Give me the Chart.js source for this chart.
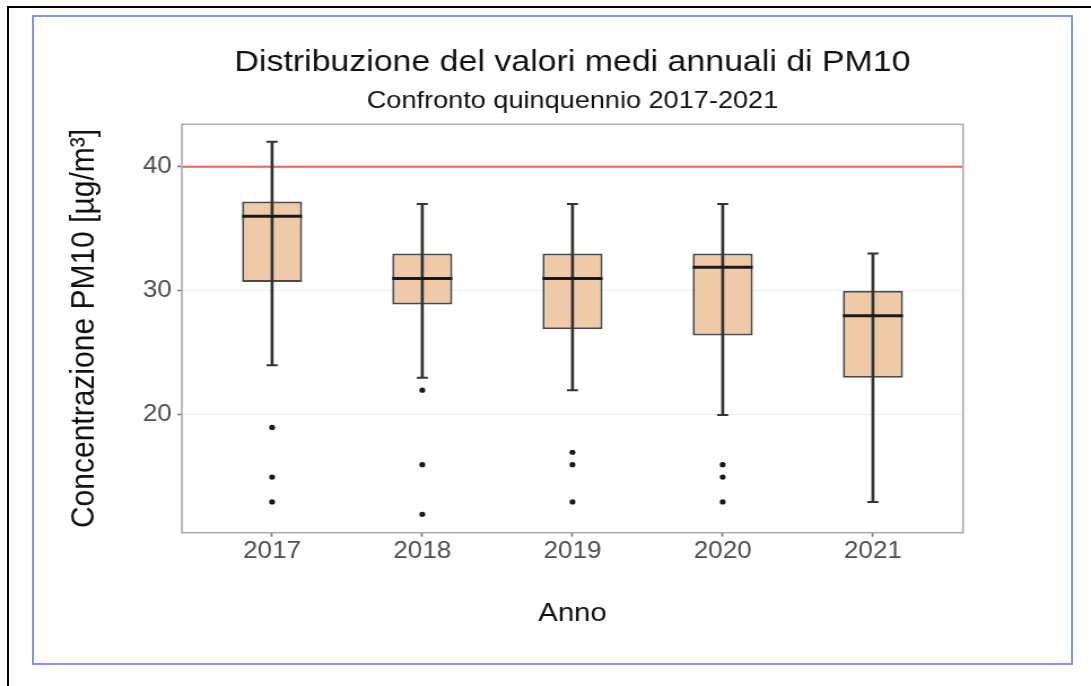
<!DOCTYPE html>
<html lang="it">
<head>
<meta charset="utf-8">
<title>PM10 2017-2021</title>
<script src="https://cdn.jsdelivr.net/npm/chart.js@4/dist/chart.umd.min.js"></script>
<style>
    html, body { margin: 0; padding: 0; background: #fff; }
    body { width: 1091px; height: 686px; position: relative; overflow: hidden; }
    /* cornice nera (solo lati sinistro e superiore) e riquadro blu */
    .frame-outer { position: absolute; left: 7px; top: 6px; right: 0; bottom: 0; border-left: 2px solid #000; border-top: 2px solid #000; }
    .frame-blue { position: absolute; left: 32px; top: 15px; width: 1041px; height: 650px; box-sizing: border-box; border: 2px solid #8292ef; }
    /* il grafico originale e' stirato in orizzontale di circa 1.13 */
    #pm10Chart { position: absolute; left: 0; top: 0; }
</style>
</head>
<body>
<div class="frame-outer"></div>
<div class="frame-blue"></div>
<canvas id="pm10Chart" width="966" height="686" style="width:1091px;height:686px"></canvas>

<script>
// Dati (concentrazione PM10, µg/m3)
const years = ['2017', '2018', '2019', '2020', '2021'];
const whiskerLow = [24, 23, 22, 20, 13];
const q1 = [30.7, 28.9, 26.9, 26.4, 23];
const median = [36, 31, 31, 31.9, 28];
const q3 = [37.2, 33, 33, 33, 30];
const whiskerHigh = [42, 37, 37, 37, 33];
const outliers = [[19, 15, 13], [22, 16, 12], [17, 16, 13], [16, 15, 13], []];
const limitValue = 40; // valore limite annuale
const yTicks = [20, 30, 40];

// limiti degli assi (come ggplot: espansione 0.6 sulle categorie)
const xMin = 0.4, xMax = 5.6;
const yMin = 10.52, yMax = 43.41;

const fontFamily = "'Liberation Sans', Arial, Helvetica, sans-serif";
const xPos = years.map((y, i) => i + 1);

const boxData = xPos.map((x, i) => ({ x: x, y: [q1[i], q3[i]] }));
const whiskerData = xPos.map((x, i) => ({ x: x, y: [whiskerLow[i], whiskerHigh[i]] }));
const capData = xPos.flatMap((x, i) => [{ x: x, y: whiskerLow[i] }, { x: x, y: whiskerHigh[i] }]);
const medianData = xPos.map((x, i) => ({ x: x, y: median[i] }));
const outlierData = xPos.flatMap((x, i) => outliers[i].map(v => ({ x: x, y: v })));
const limitData = [{ x: xMin, y: limitValue }, { x: xMax, y: limitValue }];

// bordo grigio del pannello
const panelBorder = {
    id: 'panelBorder',
    afterDraw(chart) {
        const { ctx, chartArea } = chart;
        ctx.save();
        ctx.strokeStyle = '#ababab';
        ctx.lineWidth = 1.6;
        ctx.strokeRect(chartArea.left, chartArea.top, chartArea.right - chartArea.left, chartArea.bottom - chartArea.top);
        ctx.restore();
    }
};

const ctx = document.getElementById('pm10Chart').getContext('2d');

new Chart(ctx, {
    type: 'bar',
    data: {
        datasets: [
            {
                type: 'line',
                label: 'Limite',
                data: limitData,
                borderColor: '#f45b5b',
                borderWidth: 2,
                pointRadius: 0,
                order: 6
            },
            {
                label: 'Box',
                data: boxData,
                backgroundColor: '#eecaa8',
                borderColor: '#4a4a4a',
                borderWidth: 2,
                borderSkipped: false,
                grouped: false,
                categoryPercentage: 1,
                barPercentage: 0.4,
                order: 5
            },
            {
                label: 'Baffi',
                data: whiskerData,
                backgroundColor: '#333333',
                borderWidth: 0,
                grouped: false,
                barThickness: 2,
                order: 4
            },
            {
                type: 'scatter',
                label: 'Estremi',
                data: capData,
                pointStyle: 'line',
                pointRadius: 4.9,
                pointBorderWidth: 2,
                pointBorderColor: '#333333',
                order: 3
            },
            {
                type: 'scatter',
                label: 'Mediana',
                data: medianData,
                pointStyle: 'line',
                pointRadius: 26.6,
                pointBorderWidth: 3,
                pointBorderColor: '#1a1a1a',
                order: 2
            },
            {
                type: 'scatter',
                label: 'Outlier',
                data: outlierData,
                pointStyle: 'circle',
                pointRadius: 2.6,
                pointBorderWidth: 0,
                pointBackgroundColor: '#1a1a1a',
                order: 1
            }
        ]
    },
    options: {
        responsive: false,
        devicePixelRatio: 1,
        animation: false,
        events: [],
        layout: {
            padding: { left: 53, right: 113.3, top: 20, bottom: 56.4 }
        },
        plugins: {
            legend: { display: false },
            tooltip: { enabled: false },
            title: {
                display: true,
                text: 'Distribuzione del valori medi annuali di PM10',
                fullSize: false,
                color: '#111111',
                font: { family: fontFamily, size: 30, weight: 'normal' },
                padding: { top: 24.5, bottom: 0 }
            },
            subtitle: {
                display: true,
                text: 'Confronto quinquennio 2017-2021',
                fullSize: false,
                color: '#111111',
                font: { family: fontFamily, size: 24, weight: 'normal' },
                padding: { top: 6, bottom: 9 }
            }
        },
        scales: {
            x: {
                type: 'linear',
                min: xMin,
                max: xMax,
                offset: false,
                afterBuildTicks: (scale) => {
                    scale.ticks = xPos.map(v => ({ value: v }));
                },
                afterFit: (scale) => { scale.height = 96.9; },
                ticks: {
                    callback: (value) => years[value - 1],
                    color: '#4d4d4d',
                    font: { family: fontFamily, size: 23 },
                    padding: 1,
                    maxRotation: 0
                },
                grid: {
                    offset: false,
                    drawOnChartArea: false,
                    tickLength: 4,
                    tickColor: '#6f6f6f',
                    tickWidth: 1.5
                },
                border: { display: false },
                title: {
                    display: true,
                    text: 'Anno',
                    color: '#111111',
                    font: { family: fontFamily, size: 26 },
                    padding: { top: 0, bottom: 0 }
                }
            },
            y: {
                min: yMin,
                max: yMax,
                afterBuildTicks: (scale) => {
                    scale.ticks = yTicks.map(v => ({ value: v }));
                },
                afterFit: (scale) => { scale.width = 108.1; },
                ticks: {
                    color: '#4d4d4d',
                    font: { family: fontFamily, size: 23 },
                    padding: 5
                },
                grid: {
                    color: '#efefef',
                    tickLength: 4,
                    tickColor: '#6f6f6f',
                    tickWidth: 1.5
                },
                border: { display: false },
                title: {
                    display: true,
                    text: 'Concentrazione PM10 [µg/m³]',
                    color: '#111111',
                    font: { family: fontFamily, size: 30 },
                    padding: { top: 4, bottom: 0 }
                }
            }
        }
    },
    plugins: [panelBorder]
});
</script>
</body>
</html>
